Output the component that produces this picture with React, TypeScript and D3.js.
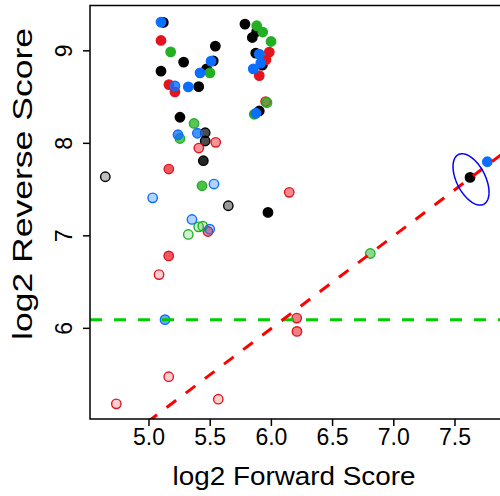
import React from 'react';
import * as d3 from 'd3';

// log2 forward / reverse scores, one entry per point
const forwardScore = [
  5.117, 5.098, 5.098, 5.177, 5.542, 5.283, 5.098, 5.525, 5.507, 5.471,
  5.498, 5.417, 5.163, 5.212, 5.212, 5.321, 5.406, 5.253, 5.368, 5.237,
  5.253, 5.395, 5.459, 5.459, 5.545, 5.407, 5.444, 5.162, 4.643, 5.433,
  5.531, 5.030, 5.648, 5.351, 5.406, 5.439, 5.496, 5.482, 5.321, 5.161,
  5.082, 5.131, 5.161, 4.733, 5.566, 5.784, 5.880, 5.929, 5.880, 5.844,
  5.997, 5.872, 5.901, 5.983, 5.956, 5.913, 5.926, 5.852, 5.901, 5.953,
  5.964, 5.901, 5.874, 5.860, 6.146, 5.972, 6.808, 6.207, 6.209, 7.623,
  7.764,
];
const reverseScore = [
  9.307, 9.311, 9.112, 8.989, 9.051, 8.878, 8.780, 8.892, 8.888, 8.805,
  8.762, 8.762, 8.635, 8.556, 8.621, 8.610, 8.613, 8.282, 8.215, 8.093,
  8.052, 8.109, 8.115, 8.025, 8.011, 7.949, 7.812, 7.722, 7.639, 7.541,
  7.560, 7.411, 7.325, 7.177, 7.097, 7.105, 7.072, 7.047, 7.015, 6.783,
  6.581, 6.094, 5.477, 5.184, 5.234, 9.289, 9.271, 9.203, 9.209, 9.144,
  9.101, 8.975, 8.964, 8.986, 8.903, 8.867, 8.845, 8.805, 8.732, 8.451,
  8.440, 8.350, 8.325, 8.314, 7.470, 7.253, 6.809, 6.111, 5.967, 7.632,
  7.801,
];
const group = [
  'k', 'b', 'r', 'g', 'k', 'k', 'k', 'k', 'b', 'k',
  'g', 'b', 'r', 'r', 'b', 'b', 'k', 'k', 'g', 'b',
  'g', 'b', 'k', 'k', 'r', 'r', 'k', 'r', 'k', 'g',
  'b', 'b', 'k', 'b', 'g', 'g', 'b', 'r', 'g', 'r',
  'r', 'b', 'r', 'r', 'r', 'k', 'g', 'g', 'k', 'k',
  'g', 'k', 'b', 'r', 'r', 'b', 'k', 'b', 'r', 'r',
  'g', 'k', 'b', 'g', 'r', 'k', 'g', 'r', 'r', 'k',
  'b',
];
const fillAlpha = [
  1, 1, 1, 1, 1, 1, 1, 1, 1, 1,
  1, 1, 1, 1, 0.8, 1, 1, 1, 0.75, 0.75,
  0.75, 0.75, 0.7, 0.7, 0.45, 0.45, 0.85, 0.7, 0.25, 0.8,
  0.3, 0.3, 0.4, 0.3, 0.2, 0.2, 0.3, 0.5, 0.2, 0.7,
  0.2, 0.6, 0.2, 0.2, 0.2, 1, 1, 1, 1, 1,
  1, 1, 1, 1, 1, 1, 1, 1, 1, 0.6,
  0.6, 1, 1, 1, 0.5, 1, 0.5, 0.55, 0.55, 1,
  1,
];
const groupColor: Record<string, string> = {
  k: '#000000', r: '#E3141E', g: '#22B022', b: '#0A6EFF',
};
const drawOrder = ['k', 'r', 'g', 'b'];

const xTicks = [5.0, 5.5, 6.0, 6.5, 7.0, 7.5];
const yTicks = [6, 7, 8, 9];

const reverseCutoff = 6.094;
const diagIntercept = 0;
const diagSlope = 1;

// confidence ellipse around the top-right point (data units)
const ellipseCenter = [7.631, 7.610];
const ellipseAxisA = [0.104, -0.268];
const ellipseAxisB = [0.104, 0.072];

const W = 500, H = 496;
const left = 90, right = 502.6, top = 5.5, bottom = 419;
const font = "'Liberation Sans', Arial, Helvetica, sans-serif";

export default function App() {
  const x = d3.scaleLinear().domain([4.518, 7.889]).range([left, right]);
  const y = d3.scaleLinear().domain([5.02, 9.49]).range([bottom, top]);

  const pts = d3.range(forwardScore.length)
    .map(i => ({ fx: forwardScore[i], ry: reverseScore[i], g: group[i], a: fillAlpha[i] }))
    .sort((p, q) => drawOrder.indexOf(p.g) - drawOrder.indexOf(q.g));

  const [x0, x1] = x.domain();
  const ellipse = d3.line<number>()
    .x(t => x(ellipseCenter[0] + Math.cos(t) * ellipseAxisA[0] + Math.sin(t) * ellipseAxisB[0]))
    .y(t => y(ellipseCenter[1] + Math.cos(t) * ellipseAxisA[1] + Math.sin(t) * ellipseAxisB[1]))
    .curve(d3.curveLinearClosed)(d3.range(0, 2 * Math.PI, Math.PI / 60));

  return (
    <svg width={W} height={H} style={{ position: 'absolute', left: 0, top: 0, background: '#fff' }}>
      <defs>
        <clipPath id="plot">
          <rect x={left} y={top} width={right - left} height={bottom - top} />
        </clipPath>
      </defs>
      <g clipPath="url(#plot)">
        {pts.map((p, i) => {
          const c = d3.color(groupColor[p.g])!;
          const fill = c.copy({ opacity: p.a }).toString();
          return (
            <circle key={i} cx={x(p.fx)} cy={y(p.ry)} r={4.7}
              fill={fill} stroke={groupColor[p.g]} strokeWidth={1.4} />
          );
        })}
        <line x1={x(x0)} x2={x(x1)} y1={y(reverseCutoff)} y2={y(reverseCutoff)}
          stroke="#00CD00" strokeWidth={3} strokeDasharray="12,12" />
        <line x1={x(x0)} x2={x(x1)}
          y1={y(diagIntercept + diagSlope * x0)} y2={y(diagIntercept + diagSlope * x1)}
          stroke="#FF0000" strokeWidth={3} strokeDasharray="12,12" />
        <path d={ellipse ?? ''} fill="none" stroke="#0000FF" strokeWidth={1.5} />
      </g>
      <rect x={left} y={top} width={right - left} height={bottom - top}
        fill="none" stroke="#000" strokeWidth={1.5} />
      {xTicks.map(t => (
        <g key={t}>
          <line x1={x(t)} x2={x(t)} y1={bottom} y2={bottom + 7} stroke="#000" strokeWidth={1.5} />
          <text x={x(t)} y={bottom + 26} textAnchor="middle" fontFamily={font} fontSize={23}>
            {d3.format('.1f')(t)}
          </text>
        </g>
      ))}
      {yTicks.map(t => (
        <g key={t}>
          <line x1={left - 7} x2={left} y1={y(t)} y2={y(t)} stroke="#000" strokeWidth={1.5} />
          <text transform={`translate(${left - 18},${y(t)}) rotate(-90)`} textAnchor="middle"
            fontFamily={font} fontSize={23}>
            {t}
          </text>
        </g>
      ))}
      <text x={294} y={485} textAnchor="middle" fontFamily={font} fontSize={26}
        textLength={243} lengthAdjust="spacingAndGlyphs">
        log2 Forward Score
      </text>
      <text transform={`translate(32,184) rotate(-90)`} textAnchor="middle"
        fontFamily={font} fontSize={27} textLength={312} lengthAdjust="spacingAndGlyphs">
        log2 Reverse Score
      </text>
    </svg>
  );
}
